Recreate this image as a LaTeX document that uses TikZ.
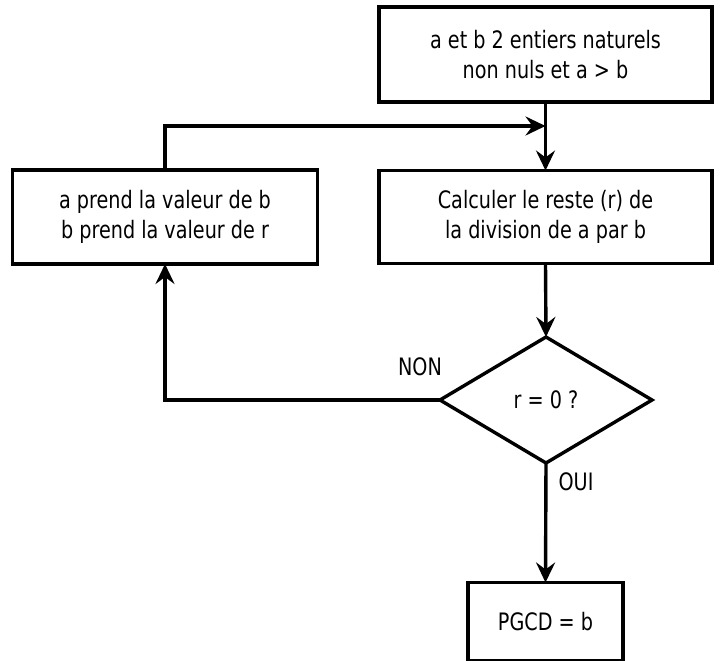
\documentclass[tikz,border=0pt]{standalone}
\usepackage{fontspec}
\setmainfont[FakeStretch=0.8]{DejaVu Sans}
\usetikzlibrary{shapes.geometric,arrows.meta}
\begin{document}
\begin{tikzpicture}[x=1pt,y=-1pt,
  box/.style={draw, line width=3.4pt, rectangle, inner sep=0pt, outer sep=0pt, align=center, font=\fontsize{24}{30}\selectfont},
  flow/.style={line width=3.4pt, -{Stealth[length=20pt,width=19pt,inset=7pt]}},
  lbl/.style={inner sep=0pt, font=\fontsize{24}{30}\selectfont}]
\useasboundingbox (0,0) rectangle (721,661);
\node[box, minimum width=333pt, minimum height=95pt] (start) at (545.5,54.5) {a et b 2 entiers naturels\\non nuls et a > b};
\node[box, minimum width=333pt, minimum height=93pt] (calc) at (545.5,217) {Calculer le reste (r) de\\la division de a par b};
\node[box, minimum width=305pt, minimum height=94pt] (swap) at (165,217) {a prend la valeur de b\\b prend la valeur de r};
\node[draw, diamond, line width=3.4pt, inner sep=0pt, outer sep=0pt, minimum width=212pt, minimum height=126pt, font=\fontsize{24}{30}\selectfont] (test) at (546,400) {r = 0 ?};
\node[box, minimum width=155pt, minimum height=78pt] (res) at (545.5,621.5) {PGCD = b};
\node[lbl] (non) at (420,367) {NON};
\node[lbl] (oui) at (576,482) {OUI};
\coordinate (join) at (545.5,126);
\draw[flow] (start.south) -- (calc.north);
\draw[flow] (swap.north) |- (join);
\draw[flow] (calc.south) -- (test.north);
\draw[flow] (test.west) -| (swap.south);
\draw[flow] (test.south) -- (res.north);
\end{tikzpicture}
\end{document}
